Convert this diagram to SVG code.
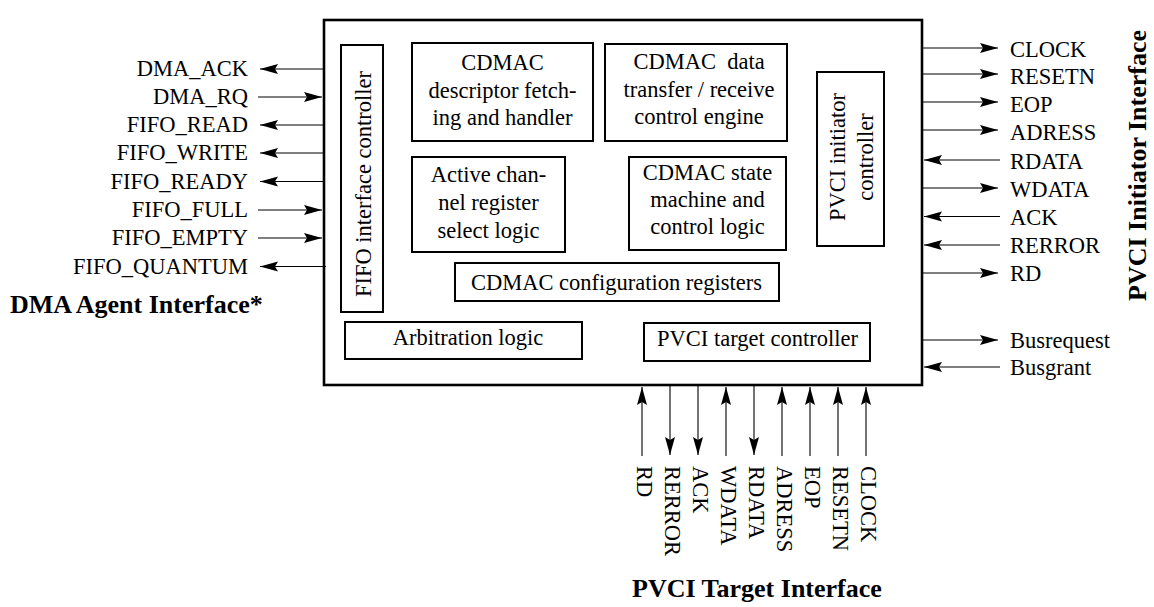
<svg xmlns="http://www.w3.org/2000/svg" width="1154" height="607" viewBox="0 0 1154 607">
<style>
text{font-family:"Liberation Serif","Times New Roman",serif;fill:#000}
.lbl{font-size:22.5px}
.in{font-size:22.5px;text-anchor:middle}
.b{font-size:26px;font-weight:bold}
.box{fill:none;stroke:#000;stroke-width:2}
.main{fill:#fff;stroke:#000;stroke-width:2.6}
.c{stroke:#000;stroke-width:1.1;fill:none;marker-end:url(#ah)}
</style>
<defs>
<marker id="ah" markerUnits="userSpaceOnUse" markerWidth="20" markerHeight="12" refX="18" refY="5" orient="auto">
<path d="M0,0 L18,5 L0,10 L3,5 z" fill="#000"/>
</marker>
</defs>
<rect width="1154" height="607" fill="#fff"/>
<g id="cdmac">
<rect class="main" x="324" y="20" width="598" height="365"/>
</g>
<g id="fifo-ctrl">
<rect class="box" x="341" y="45" width="42" height="267"/>
<text class="in" transform="translate(371,184) rotate(-90)">FIFO interface controller</text>
</g>
<g id="descriptor">
<rect class="box" x="412" y="43" width="181" height="98"/>
<text class="in" x="502.5" y="70">CDMAC</text>
<text class="in" x="502.5" y="97.5">descriptor fetch-</text>
<text class="in" x="502.5" y="124.5">ing and handler</text>
</g>
<g id="data-transfer">
<rect class="box" x="605" y="44" width="182" height="97"/>
<text class="in" x="699" y="68.5" style="white-space:pre">CDMAC  data</text>
<text class="in" x="699" y="96.5">transfer / receive</text>
<text class="in" x="699" y="124">control engine</text>
</g>
<g id="active-channel">
<rect class="box" x="412" y="157" width="153" height="95"/>
<text class="in" x="488.5" y="182">Active chan-</text>
<text class="in" x="488.5" y="210">nel register</text>
<text class="in" x="488.5" y="238">select logic</text>
</g>
<g id="state-machine">
<rect class="box" x="629" y="157" width="157" height="93"/>
<text class="in" x="707.5" y="180">CDMAC state</text>
<text class="in" x="707.5" y="207">machine and</text>
<text class="in" x="707.5" y="234">control logic</text>
</g>
<g id="pvci-initiator">
<rect class="box" x="817" y="72" width="67" height="174"/>
<text class="in" transform="translate(845,157) rotate(-90)">PVCI initiator</text>
<text class="in" transform="translate(873,157) rotate(-90)">controller</text>
</g>
<g id="config-registers">
<rect class="box" x="455" y="263" width="324" height="38"/>
<text class="in" x="616.5" y="290">CDMAC configuration registers</text>
</g>
<g id="arbitration">
<rect class="box" x="345" y="322" width="237" height="37"/>
<text class="in" x="468" y="345">Arbitration logic</text>
</g>
<g id="pvci-target">
<rect class="box" x="644" y="323" width="226" height="38"/>
<text class="in" x="757.5" y="345.5">PVCI target controller</text>
</g>
<g id="connectors">
<line class="c" x1="323" y1="69" x2="260" y2="69"/>
<line class="c" x1="258" y1="97" x2="322" y2="97"/>
<line class="c" x1="323" y1="125" x2="260" y2="125"/>
<line class="c" x1="323" y1="153" x2="260" y2="153"/>
<line class="c" x1="323" y1="181.5" x2="260" y2="181.5"/>
<line class="c" x1="258" y1="210" x2="322" y2="210"/>
<line class="c" x1="258" y1="238" x2="322" y2="238"/>
<line class="c" x1="326" y1="266.5" x2="260" y2="266.5"/>
<line class="c" x1="922" y1="48" x2="998" y2="48"/>
<line class="c" x1="922" y1="74" x2="998" y2="74"/>
<line class="c" x1="922" y1="102" x2="998" y2="102"/>
<line class="c" x1="922" y1="130" x2="998" y2="130"/>
<line class="c" x1="1000" y1="160" x2="924" y2="160"/>
<line class="c" x1="922" y1="188" x2="998" y2="188"/>
<line class="c" x1="1000" y1="216.5" x2="924" y2="216.5"/>
<line class="c" x1="1000" y1="245" x2="924" y2="245"/>
<line class="c" x1="922" y1="273" x2="998" y2="273"/>
<line class="c" x1="922" y1="340" x2="998" y2="340"/>
<line class="c" x1="1000" y1="367" x2="924" y2="367"/>
<line class="c" x1="642" y1="456" x2="642" y2="387"/>
<line class="c" x1="670" y1="385" x2="670" y2="455"/>
<line class="c" x1="698" y1="385" x2="698" y2="455"/>
<line class="c" x1="726" y1="456" x2="726" y2="387"/>
<line class="c" x1="754" y1="385" x2="754" y2="455"/>
<line class="c" x1="782" y1="456" x2="782" y2="387"/>
<line class="c" x1="810" y1="456" x2="810" y2="387"/>
<line class="c" x1="838" y1="456" x2="838" y2="387"/>
<line class="c" x1="866" y1="456" x2="866" y2="387"/>
</g>
<g id="left-labels" class="lbl" text-anchor="end">
<text class="lbl" x="248" y="76">DMA_ACK</text>
<text class="lbl" x="248" y="104">DMA_RQ</text>
<text class="lbl" x="248" y="132">FIFO_READ</text>
<text class="lbl" x="248" y="160">FIFO_WRITE</text>
<text class="lbl" x="248" y="188.5">FIFO_READY</text>
<text class="lbl" x="248" y="217">FIFO_FULL</text>
<text class="lbl" x="248" y="245">FIFO_EMPTY</text>
<text class="lbl" x="248" y="273.5">FIFO_QUANTUM</text>
</g>
<g id="right-labels">
<text class="lbl" x="1010" y="57">CLOCK</text>
<text class="lbl" x="1010" y="84">RESETN</text>
<text class="lbl" x="1010" y="112">EOP</text>
<text class="lbl" x="1010" y="140">ADRESS</text>
<text class="lbl" x="1010" y="169">RDATA</text>
<text class="lbl" x="1010" y="197">WDATA</text>
<text class="lbl" x="1010" y="225">ACK</text>
<text class="lbl" x="1010" y="253">RERROR</text>
<text class="lbl" x="1010" y="281">RD</text>
<text class="lbl" x="1010" y="348">Busrequest</text>
<text class="lbl" x="1010" y="375">Busgrant</text>
</g>
<g id="bottom-labels">
<text class="lbl" transform="translate(637,466) rotate(90)">RD</text>
<text class="lbl" transform="translate(665,466) rotate(90)">RERROR</text>
<text class="lbl" transform="translate(693,466) rotate(90)">ACK</text>
<text class="lbl" transform="translate(721,466) rotate(90)">WDATA</text>
<text class="lbl" transform="translate(749,466) rotate(90)">RDATA</text>
<text class="lbl" transform="translate(777,466) rotate(90)">ADRESS</text>
<text class="lbl" transform="translate(805,466) rotate(90)">EOP</text>
<text class="lbl" transform="translate(833,466) rotate(90)">RESETN</text>
<text class="lbl" transform="translate(861,466) rotate(90)">CLOCK</text>
</g>
<g id="titles">
<text class="b" x="10" y="313">DMA Agent Interface*</text>
<text class="b" x="632" y="597">PVCI Target Interface</text>
<text class="b" transform="translate(1146,301) rotate(-90)">PVCI Initiator Interface</text>
</g>
</svg>
